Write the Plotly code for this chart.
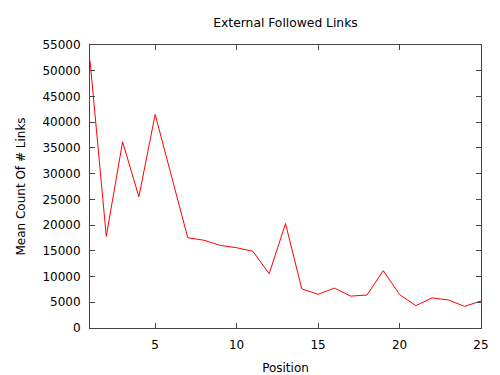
import plotly.graph_objects as go

positions = list(range(1, 26))
mean_links = [52000, 17800, 36200, 25500, 41500, 29500, 17550, 17050, 16050, 15600,
              14900, 10550, 20300, 7600, 6550, 7750, 6200, 6400, 11150, 6500,
              4350, 5850, 5450, 4200, 5250]
x_ticks = [5, 10, 15, 20, 25]
y_ticks = list(range(0, 55001, 5000))

fig = go.Figure()
fig.add_trace(go.Scatter(x=positions, y=mean_links, mode="lines",
                         line=dict(color="#ff0000", width=1), showlegend=False))

font = dict(family="DejaVu Sans", size=12, color="#000000")
axis_common = dict(showgrid=False, zeroline=False, showline=True, linecolor="#444444",
                   linewidth=1, mirror="ticks", ticks="inside", ticklen=5,
                   tickcolor="#444444", tickfont=font, ticklabelstandoff=6,
                   automargin=False)
fig.update_layout(
    width=500, height=375,
    margin=dict(l=90, r=19, t=45, b=47),
    plot_bgcolor="white", paper_bgcolor="white",
    font=font,
    title=dict(text="External Followed Links", xref="paper", x=0.5, xanchor="center",
               y=1 - 23 / 375, yanchor="middle", font=dict(family="DejaVu Sans", size=12.3)),
    xaxis=dict(range=[1, 25], tickvals=x_ticks, ticktext=[str(v) for v in x_ticks],
               title=dict(text="Position", font=font, standoff=12), **axis_common),
    yaxis=dict(range=[0, 55000], tickvals=y_ticks, ticktext=[str(v) for v in y_ticks],
               title=dict(text="Mean Count Of # Links", font=font, standoff=14), **axis_common),
)
fig.write_html("out.html")
